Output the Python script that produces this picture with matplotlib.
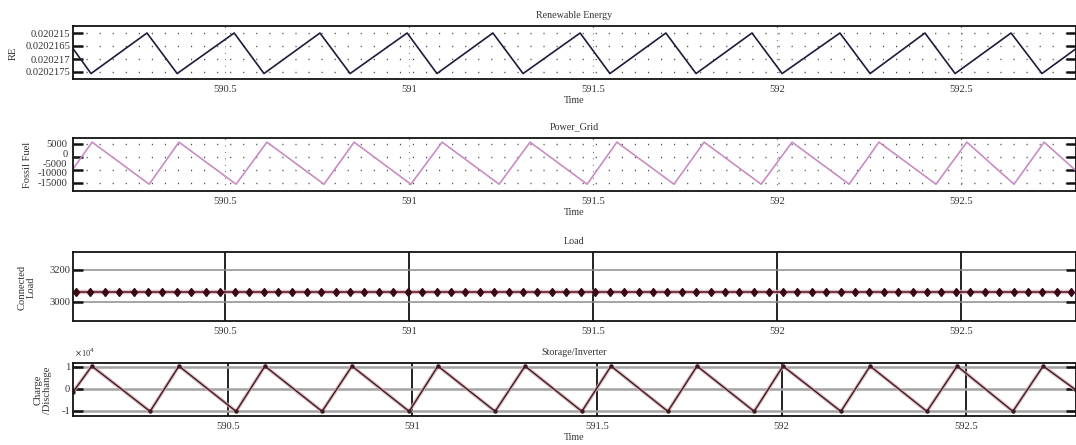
import matplotlib
matplotlib.use("Agg")
import matplotlib.pyplot as plt

plt.rcParams['font.family'] = ['Liberation Serif', 'DejaVu Serif']

# Renewable Energy (triangle wave vertices)
re_time = [590.087, 590.136, 590.288, 590.370, 590.525, 590.606, 590.758, 590.840,
           590.995, 591.076, 591.228, 591.310, 591.465, 591.546, 591.698, 591.780,
           591.932, 592.014, 592.171, 592.253, 592.402, 592.484, 592.636, 592.720, 592.813]
re_value = [0.0202160, 0.0202176, 0.0202150, 0.0202176, 0.0202150, 0.0202176, 0.0202150,
            0.0202176, 0.0202150, 0.0202176, 0.0202150, 0.0202176, 0.0202150, 0.0202176,
            0.0202150, 0.0202176, 0.0202150, 0.0202176, 0.0202150, 0.0202176, 0.0202150,
            0.0202176, 0.0202150, 0.0202176, 0.0202160]
re_ticks = [0.020215, 0.02021583, 0.02021667, 0.0202175]
re_ticklabels = ['0.020215', '0.0202165', '0.020217', '0.0202175']

# Power grid / fossil fuel
pg_time = [590.087, 590.139, 590.294, 590.375, 590.530, 590.614, 590.769, 590.851,
           591.005, 591.090, 591.245, 591.329, 591.484, 591.565, 591.720, 591.802,
           591.957, 592.041, 592.196, 592.277, 592.432, 592.516, 592.644, 592.726, 592.813]
pg_value = [-8000, 5700, -15800, 5700, -15800, 5700, -15800, 5700, -15800, 5700, -15800,
            5700, -15800, 5700, -15800, 5700, -15800, 5700, -15800, 5700, -15800, 5700,
            -15800, 5700, -9000]
pg_tickmarks = [5000, -1667, -8333, -15000]
pg_labels = [5000, 0, -5000, -10000, -15000]

# Load
load_time = [590.095, 590.134, 590.173, 590.213, 590.252, 590.291, 590.330, 590.369,
             590.409, 590.448, 590.487, 590.526, 590.565, 590.605, 590.644, 590.683,
             590.722, 590.761, 590.801, 590.840, 590.879, 590.918, 590.957, 590.997,
             591.036, 591.075, 591.114, 591.153, 591.193, 591.232, 591.271, 591.310,
             591.349, 591.389, 591.428, 591.467, 591.506, 591.545, 591.585, 591.624,
             591.663, 591.702, 591.741, 591.781, 591.820, 591.859, 591.898, 591.937,
             591.977, 592.016, 592.055, 592.094, 592.133, 592.173, 592.212, 592.251,
             592.290, 592.329, 592.369, 592.408, 592.447, 592.486, 592.525, 592.565,
             592.604, 592.643, 592.682, 592.721, 592.761, 592.800]
load_value = [3062] * len(load_time)

# Storage / inverter (x1e4)
st_time = [590.080, 590.131, 590.289, 590.367, 590.522, 590.600, 590.755, 590.836,
           590.991, 591.069, 591.224, 591.305, 591.459, 591.538, 591.692, 591.771,
           591.926, 592.004, 592.161, 592.240, 592.394, 592.476, 592.627, 592.709, 592.798]
st_value = [-0.14, 1.04, -1.02, 1.04, -1.02, 1.04, -1.02, 1.04, -1.02, 1.04, -1.02,
            1.04, -1.02, 1.04, -1.02, 1.04, -1.02, 1.04, -1.02, 1.04, -1.02, 1.04,
            -1.02, 1.04, -0.05]

xticks = [590.5, 591, 591.5, 592, 592.5]
xticklabels = ['590.5', '591', '591.5', '592', '592.5']

W, H = 1076, 445
fig = plt.figure(figsize=(W / 100, H / 100), dpi=100)
txt = '#333333'
fs = 7.6
tfs = 7.2

def make_ax(top, bottom):
    ax = fig.add_axes([73 / W, 1 - bottom / H, (W - 73) / W, (bottom - top) / H])
    for s in ax.spines.values():
        s.set_linewidth(1.3)
        s.set_color('#111111')
    ax.set_xticks(xticks)
    ax.set_xticklabels(xticklabels)
    ax.tick_params(axis='x', length=0, pad=4, labelsize=fs, labelcolor=txt)
    ax.tick_params(axis='y', which='major', direction='in', length=7, width=1.8,
                   left=True, right=True, labelsize=fs, labelcolor=txt, color='#111111', pad=2)
    return ax

# panel 1
ax1 = make_ax(26, 79)
ax1.plot(re_time, re_value, color='#1c1c3c', lw=1.2)
ax1.set_xlim(590.087, 592.8125)
ax1.set_ylim(0.02021795, 0.02021455)
ax1.set_yticks(re_ticks)
ax1.set_yticklabels(re_ticklabels)
ax1.yaxis.grid(True, color='#444444', lw=1, linestyle=(0, (0.8, 8.6)))
ax1.xaxis.grid(True, color='#666666', lw=0.8, linestyle=(0, (0.8, 5)))
ax1.set_title('Renewable Energy', fontsize=tfs, color=txt, pad=6)
ax1.set_xlabel('Time', fontsize=tfs, color=txt, labelpad=2)

# panel 2
ax2 = make_ax(137.5, 191)
ax2.plot(pg_time, pg_value, color='#c98cc2', lw=1.2)
ax2.set_xlim(590.087, 592.8125)
ax2.set_ylim(-19270, 8080)
ax2.yaxis.remove_overlapping_locs = False
ax2.set_yticks(pg_tickmarks)
ax2.set_yticklabels([])
ax2.set_yticks(pg_labels, minor=True)
ax2.set_yticklabels([str(v) for v in pg_labels], minor=True)
ax2.tick_params(axis='y', which='minor', length=0, labelsize=fs, labelcolor=txt, pad=4)
ax2.yaxis.grid(True, which='major', color='#444444', lw=1, linestyle=(0, (0.8, 8.6)))
ax2.xaxis.grid(True, color='#666666', lw=0.8, linestyle=(0, (0.8, 5)))
ax2.set_title('Power_Grid', fontsize=tfs, color=txt, pad=6)
ax2.set_xlabel('Time', fontsize=tfs, color=txt, labelpad=2)

# panel 3
ax3 = make_ax(252, 321)
ax3.plot(load_time, load_value, color='#d8b4bc', lw=3.2, alpha=0.8)
ax3.plot(load_time, load_value, color='#5a1022', lw=1.1, marker='d', ms=4.5,
         mfc='#3a0812', mec='#3a0812')
ax3.set_xlim(590.087, 592.8125)
ax3.set_ylim(2881, 3312)
ax3.set_yticks([3000, 3200])
ax3.yaxis.grid(True, color='#8c8c8c', lw=1.1)
ax3.xaxis.grid(True, color='#222222', lw=1.4)
ax3.set_title('Load', fontsize=tfs, color=txt, pad=6)

# panel 4
ax4 = make_ax(363, 416)
ax4.plot(st_time, st_value, color='#d4aab2', lw=2.6, alpha=0.8)
ax4.plot(st_time, st_value, color='#3e1c22', lw=1.0, marker='o', ms=2.2)
ax4.set_xlim(590.080, 592.798)
ax4.set_ylim(-1.23, 1.18)
ax4.set_yticks([-1, 0, 1])
ax4.set_yticklabels(['-1', '0', '1'])
ax4.yaxis.grid(True, color='#a3a3a3', lw=1.8)
ax4.xaxis.grid(True, color='#222222', lw=1.4)
ax4.set_title('Storage/Inverter', fontsize=tfs, color=txt, pad=6)
ax4.set_xlabel('Time', fontsize=tfs, color=txt, labelpad=2)
fig.text(74 / W, 1 - 353 / H, r'$\times$10$^4$', fontsize=6, color=txt, va='center')

# y labels
fig.text(13 / W, 1 - 53 / H, 'RE', rotation=90, fontsize=fs, color=txt, ha='center', va='center')
fig.text(28 / W, 1 - 165 / H, 'Fossil Fuel', rotation=90, fontsize=fs, color=txt, ha='center', va='center')
fig.text(27 / W, 1 - 287 / H, 'Connected\nLoad', rotation=90, fontsize=fs, color=txt,
         ha='center', va='center', linespacing=1.0)
fig.text(43 / W, 1 - 390 / H, 'Charge\n/Dischange', rotation=90, fontsize=fs, color=txt,
         ha='center', va='center', linespacing=1.0)

fig.savefig('out.png', dpi=100)
